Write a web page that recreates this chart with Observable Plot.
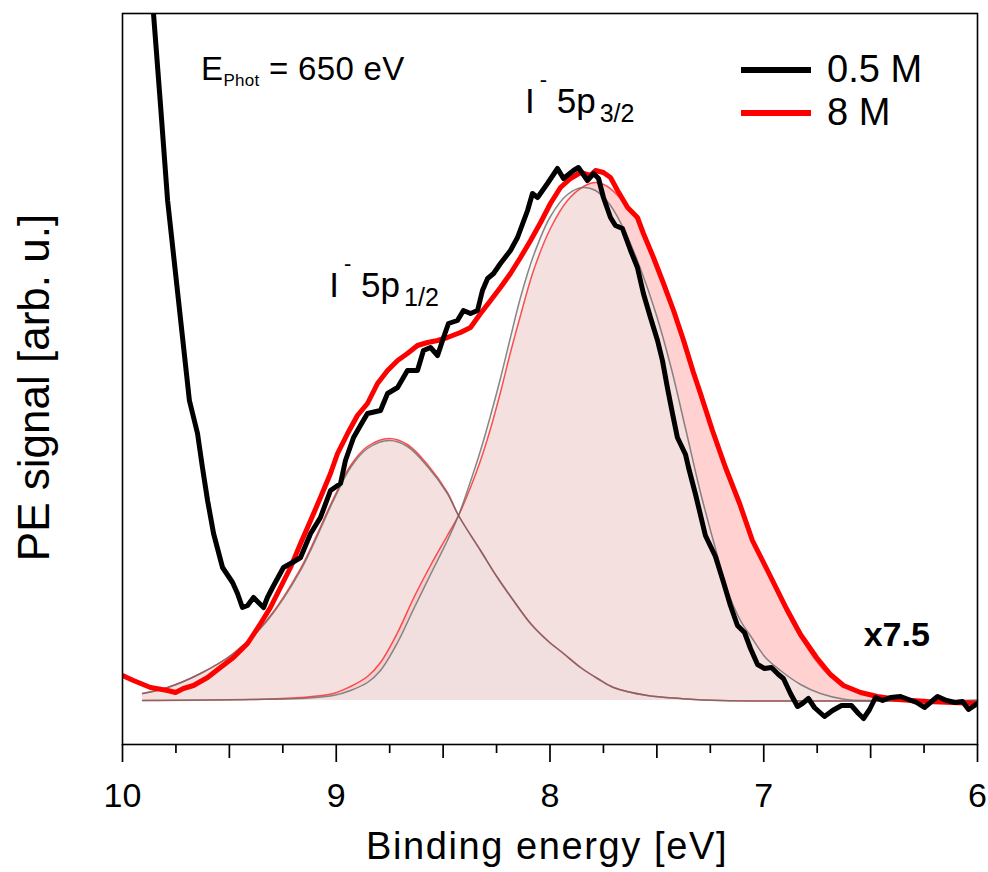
<!DOCTYPE html>
<html>
<head>
<meta charset="utf-8">
<script src="https://cdn.jsdelivr.net/npm/d3@7"></script>
<script src="https://cdn.jsdelivr.net/npm/@observablehq/plot@0.6"></script>
<style>
  body { margin: 0; background: #fff; }
  svg { display: block; }
</style>
</head>
<body>
<div id="chart"></div>
<script>
const FONT = "'Liberation Sans', Arial, Helvetica, sans-serif";

// ---- 0.5 M spectrum (black) : binding energy [eV] and PE signal [arb. u.]
const black05_E = [9.867,9.855,9.822,9.789,9.738,9.687,9.649,9.626,9.602,9.574,
  9.532,9.485,9.462,9.439,9.415,9.387,9.364,9.340,9.322,9.298,
  9.247,9.205,9.167,9.120,9.074,9.027,8.980,8.957,8.919,8.887,
  8.854,8.793,8.760,8.713,8.667,8.620,8.592,8.559,8.526,8.498,
  8.475,8.433,8.405,8.372,8.339,8.316,8.292,8.264,8.232,8.185,
  8.152,8.105,8.082,8.058,8.012,7.965,7.937,7.890,7.867,7.825,
  7.796,7.773,7.750,7.717,7.694,7.661,7.623,7.591,7.563,7.530,
  7.497,7.474,7.450,7.427,7.404,7.366,7.352,7.319,7.273,7.226,
  7.188,7.156,7.123,7.090,7.062,7.029,6.996,6.964,6.931,6.908,
  6.875,6.842,6.819,6.791,6.763,6.716,6.678,6.636,6.590,6.557,
  6.533,6.505,6.477,6.444,6.407,6.360,6.323,6.285,6.248,6.215,
  6.187,6.145,6.103,6.070,6.042,6.014,6.000];
const black05_I = [7.30,6.87,5.95,5.00,4.00,3.00,2.67,2.33,2.00,1.67,
  1.33,1.18,1.07,0.93,0.95,1.03,0.98,0.93,1.03,1.13,
  1.33,1.38,1.43,1.67,1.83,2.10,2.17,2.40,2.63,2.75,
  2.87,2.90,3.07,3.13,3.30,3.30,3.50,3.53,3.45,3.63,
  3.77,3.80,3.90,3.87,3.90,4.10,4.22,4.27,4.37,4.50,
  4.63,4.90,5.07,5.03,5.17,5.32,5.22,5.30,5.33,5.20,
  5.27,5.22,5.03,4.83,4.75,4.72,4.50,4.33,4.07,3.83,
  3.60,3.40,3.12,2.87,2.63,2.46,2.33,2.06,1.65,1.44,
  1.18,0.95,0.75,0.68,0.52,0.36,0.32,0.33,0.26,0.22,
  0.07,-0.06,-0.03,0.02,-0.07,-0.16,-0.10,-0.05,-0.05,-0.13,
  -0.18,-0.09,0.03,0.00,0.03,0.04,0.01,-0.02,-0.07,-0.01,
  0.04,0.00,-0.02,-0.01,-0.09,-0.05,-0.03];

// ---- 8 M spectrum (red)
const red8_E = [10.000,9.949,9.869,9.789,9.752,9.715,9.668,9.602,9.542,9.481,
  9.415,9.354,9.308,9.261,9.214,9.167,9.120,9.074,9.027,8.994,
  8.947,8.901,8.854,8.807,8.760,8.713,8.667,8.620,8.573,8.526,
  8.480,8.419,8.372,8.325,8.278,8.232,8.185,8.138,8.091,8.044,
  7.998,7.951,7.904,7.857,7.811,7.787,7.750,7.717,7.684,7.637,
  7.591,7.563,7.516,7.469,7.422,7.375,7.329,7.296,7.240,7.179,
  7.113,7.053,6.973,6.894,6.828,6.753,6.688,6.627,6.547,6.468,
  6.374,6.234,6.000];
const red8_I = [0.25,0.20,0.13,0.10,0.08,0.12,0.15,0.23,0.33,0.43,
  0.57,0.77,0.93,1.13,1.33,1.57,1.80,2.03,2.27,2.47,
  2.67,2.85,2.97,3.17,3.30,3.40,3.47,3.55,3.58,3.60,
  3.63,3.68,3.73,3.87,4.00,4.13,4.27,4.43,4.60,4.78,
  4.97,5.13,5.22,5.28,5.25,5.30,5.28,5.23,5.10,4.93,
  4.83,4.67,4.43,4.17,3.90,3.60,3.28,3.07,2.70,2.33,
  1.97,1.60,1.26,0.92,0.66,0.43,0.26,0.15,0.08,0.04,
  0.01,-0.01,-0.03];

// ---- fit component I- 5p1/2 (0.5 M gray, 8 M red)
const comp1_E = [9.906,9.789,9.635,9.481,9.322,9.167,9.013,8.933,8.854,8.751,
  8.667,8.573,8.480,8.428,8.325,8.246,8.171,8.091,8.012,7.937,
  7.857,7.778,7.703,7.544,7.389,7.202,6.000];
const comp1_05_I = [0.07,0.13,0.27,0.47,0.80,1.30,2.00,2.33,2.52,2.60,
  2.54,2.34,2.07,1.85,1.50,1.23,1.00,0.77,0.60,0.47,
  0.33,0.22,0.13,0.05,0.02,0.00,0.00];
const comp1_8_I = [0.07,0.13,0.27,0.47,0.81,1.32,2.02,2.35,2.54,2.62,
  2.56,2.36,2.08,1.85,1.50,1.23,1.00,0.77,0.60,0.47,
  0.33,0.22,0.13,0.05,0.02,0.00,0.00];

// ---- fit component I- 5p3/2, 0.5 M (gray)
const comp2_05_E = [9.906,9.401,9.167,9.013,8.933,8.854,8.793,8.713,8.639,8.559,
  8.480,8.428,8.372,8.325,8.278,8.232,8.185,8.138,8.077,7.998,
  7.918,7.848,7.787,7.717,7.647,7.577,7.506,7.436,7.366,7.296,
  7.226,7.170,7.109,7.057,6.992,6.922,6.828,6.735,6.618,6.501,6.000];
const comp2_05_I = [0.00,0.01,0.02,0.05,0.10,0.18,0.30,0.58,0.91,1.26,
  1.60,1.85,2.19,2.50,2.85,3.22,3.63,4.03,4.45,4.84,
  5.06,5.13,5.10,4.95,4.68,4.32,3.88,3.35,2.72,2.08,
  1.52,1.10,0.80,0.63,0.43,0.30,0.16,0.07,0.01,0.00,0.00];

// ---- fit component I- 5p3/2, 8 M (red)
const comp2_8_E = [9.906,9.401,9.167,9.013,8.933,8.854,8.793,8.713,8.639,8.559,
  8.480,8.428,8.372,8.325,8.278,8.232,8.185,8.138,8.077,7.998,
  7.918,7.843,7.787,7.731,7.670,7.591,7.516,7.436,7.343,7.240,
  7.109,6.968,6.828,6.688,6.547,6.407,6.220,6.000];
const comp2_8_I = [0.00,0.01,0.03,0.07,0.14,0.24,0.38,0.68,1.02,1.35,
  1.65,1.85,2.13,2.40,2.72,3.08,3.48,3.85,4.30,4.72,
  5.00,5.14,5.18,5.14,5.02,4.80,4.40,3.95,3.34,2.68,
  1.92,1.21,0.63,0.24,0.09,0.02,0.00,0.00];

// ---- axis ticks and labels
const majorTicks = [10, 9, 8, 7, 6];
const halfTicks = [9.5, 8.5, 7.5, 6.5];
const quarterTicks = [9.75, 9.25, 8.75, 8.25, 7.75, 7.25, 6.75, 6.25];
const xTitle = "Binding energy [eV]";
const yTitle = "PE signal [arb. u.]";
const legendLabels = ["0.5 M", "8 M"];

const rows = (E, I) => E.map((e, i) => ({E: e, I: I[i]}));
const black05 = rows(black05_E, black05_I);
const red8 = rows(red8_E, red8_I);
const c1_05 = rows(comp1_E, comp1_05_I);
const c1_8 = rows(comp1_E, comp1_8_I);
const c2_05 = rows(comp2_05_E, comp2_05_I);
const c2_8 = rows(comp2_8_E, comp2_8_I);

const smooth = "catmull-rom";
const redFill = {x: "E", y: "I", fill: "#ff0000", fillOpacity: 0.18, curve: smooth};
const grayFill = {x: "E", y: "I", fill: "#ececec", fillOpacity: 0.55, curve: smooth};
const redThin = {x: "E", y: "I", stroke: "#ff0000", strokeOpacity: 0.65, strokeWidth: 1.5, curve: smooth};
const grayThin = {x: "E", y: "I", stroke: "#6a6a6a", strokeOpacity: 0.8, strokeWidth: 1.5, curve: smooth};

const plot = Plot.plot({
  width: 988,
  height: 872,
  marginLeft: 122,
  marginRight: 11,
  marginTop: 13,
  marginBottom: 128,
  x: {domain: [10, 6], label: null},
  y: {domain: [-0.44, 6.87], axis: null, label: null},
  style: {fontFamily: FONT, fontSize: "34px", color: "#000", background: "#fff"},
  marks: [
    Plot.areaY(c1_8, redFill),
    Plot.areaY(c2_8, redFill),
    Plot.areaY(c1_05, grayFill),
    Plot.areaY(c2_05, grayFill),
    Plot.line(c1_8, redThin),
    Plot.line(c2_8, redThin),
    Plot.line(c1_05, grayThin),
    Plot.line(c2_05, grayThin),
    Plot.line(red8, {x: "E", y: "I", stroke: "#ff0000", strokeWidth: 5, strokeLinejoin: "round", clip: true}),
    Plot.line(black05, {x: "E", y: "I", stroke: "#000", strokeWidth: 5, strokeLinejoin: "round", clip: true}),
    Plot.frame({stroke: "#000", strokeWidth: 1.6}),
    Plot.axisX({ticks: majorTicks, tickSize: 18, tickPadding: 20, tickFormat: d => String(d), fontSize: 34, strokeWidth: 1.7, label: null}),
    Plot.axisX({ticks: halfTicks, tickSize: 14, tickFormat: () => "", strokeWidth: 1.7, label: null}),
    Plot.axisX({ticks: quarterTicks, tickSize: 9, tickFormat: () => "", strokeWidth: 1.7, label: null}),
    Plot.text([xTitle], {frameAnchor: "bottom", textAnchor: "middle", dx: -3, dy: 114, lineAnchor: "bottom", fontSize: 38}),
    Plot.text([yTitle], {frameAnchor: "left", textAnchor: "middle", rotate: -90, dx: -74, dy: 8.5, lineAnchor: "bottom", fontSize: 44})
  ]
});

document.getElementById("chart").appendChild(plot);

const svg = d3.select(plot);
svg.selectAll("text").filter(function() { return this.textContent === xTitle; })
  .style("letter-spacing", "1.6px");

// scale helpers
const sx = plot.scale("x"), sy = plot.scale("y");
const fx = sx.apply ? v => sx.apply(v) : d3.scaleLinear(sx.domain, sx.range);
const fy = sy.apply ? v => sy.apply(v) : d3.scaleLinear(sy.domain, sy.range);

const g = svg.append("g").attr("font-family", FONT).attr("fill", "#000").attr("text-anchor", "start");

function rich(x, y, parts, extra = {}) {
  const t = g.append("text").attr("x", x).attr("y", y).attr("text-anchor", "start");
  for (const k in extra) t.attr(k, extra[k]);
  for (const p of parts) {
    const s = t.append("tspan").text(p.t).attr("font-size", p.size);
    if (p.dx) s.attr("dx", p.dx);
    if (p.dy) s.attr("dy", p.dy);
  }
  return t;
}

// photon energy
rich(fx(9.63), fy(6.20), [
  {t: "E", size: 33},
  {t: "Phot", size: 17, dy: 6},
  {t: " = 650 eV", size: 33, dy: -6}
], {"letter-spacing": "0.3px"});

// peak labels
rich(fx(8.115), fy(5.87), [
  {t: "I", size: 35},
  {t: "-", size: 22, dx: 5, dy: -26},
  {t: " 5p", size: 35, dy: 26},
  {t: "3/2", size: 25, dx: 4, dy: 9}
]);
rich(fx(9.03), fy(4.03), [
  {t: "I", size: 35},
  {t: "-", size: 22, dx: 5, dy: -26},
  {t: " 5p", size: 35, dy: 26},
  {t: "1/2", size: 25, dx: 4, dy: 9}
]);

// scale factor note
g.append("text").attr("x", fx(6.53)).attr("y", fy(0.54)).attr("text-anchor", "start")
  .attr("font-size", 34).attr("font-weight", "bold").text("x7.5");

// legend
const leg = svg.append("g").attr("font-family", FONT).attr("text-anchor", "start");
const legColors = ["#000", "#ff0000"];
const legY = [70, 113];
const legBase = [82, 125];
legendLabels.forEach((lab, i) => {
  leg.append("line").attr("x1", 741).attr("x2", 811).attr("y1", legY[i]).attr("y2", legY[i])
    .attr("stroke", legColors[i]).attr("stroke-width", 6);
  leg.append("text").attr("x", 827).attr("y", legBase[i]).attr("font-size", 38)
    .attr("fill", "#000").attr("text-anchor", "start").text(lab);
});
</script>
</body>
</html>
